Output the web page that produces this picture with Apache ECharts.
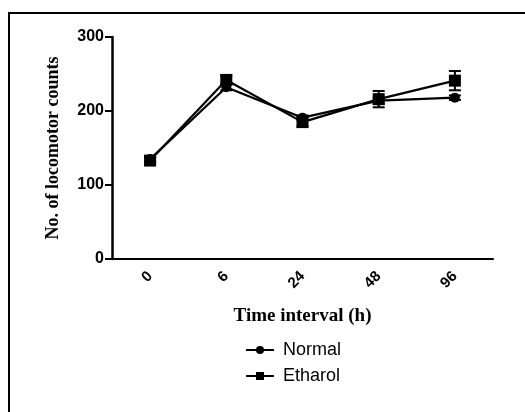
<!DOCTYPE html>
<html>
<head>
<meta charset="utf-8">
<script src="https://cdn.jsdelivr.net/npm/echarts@6/dist/echarts.min.js"></script>
<style>
  html, body { margin: 0; padding: 0; background: #fff; }
  #chart { width: 525px; height: 412px; }
</style>
</head>
<body>
<div id="chart"></div>
<script>
// categories (time points, h)
const timePoints = ['0', '6', '24', '48', '96'];
// mean locomotor counts
const normalValues = [135, 232, 191, 214, 218];
const ethanolValues = [133, 242, 185, 216, 241];
// SEM
const normalErr = [3, 4, 3, 4, 3];
const ethanolErr = [4, 6, 6, 11, 13];
const yTicks = [0, 100, 200, 300];

const chart = echarts.init(document.getElementById('chart'));

// 误差线
const errorSeries = (name, values, errs) => ({
  name: name,
  type: 'custom',
  silent: true,
  z: 1,
  data: values.map((v, i) => [i, v - errs[i], v + errs[i]]),
  renderItem: (params, api) => {
    const lo = api.coord([api.value(0), api.value(1)]);
    const hi = api.coord([api.value(0), api.value(2)]);
    const w = 6;
    const style = { stroke: '#000', lineWidth: 2 };
    return {
      type: 'group',
      children: [
        { type: 'line', shape: { x1: hi[0], y1: hi[1], x2: lo[0], y2: lo[1] }, style },
        { type: 'line', shape: { x1: hi[0] - w, y1: hi[1], x2: hi[0] + w, y2: hi[1] }, style },
        { type: 'line', shape: { x1: lo[0] - w, y1: lo[1], x2: lo[0] + w, y2: lo[1] }, style }
      ]
    };
  }
});

const option = {
  animation: false,
  graphic: [{
    type: 'rect',
    shape: { x: 9, y: 13, width: 540, height: 420 },
    style: { fill: 'none', stroke: '#000', lineWidth: 2 }
  }],
  grid: { left: 112, top: 37, right: 32, bottom: 153 },
  legend: {
    orient: 'vertical',
    left: 240,
    top: 336,
    itemWidth: 28,
    itemHeight: 10,
    itemGap: 8,
    data: ['Normal', 'Etharol'],
    textStyle: { fontFamily: 'Liberation Sans, Arial', fontSize: 18, color: '#000', padding: [0, 0, 0, 4] }
  },
  xAxis: {
    type: 'category',
    data: timePoints,
    boundaryGap: true,
    name: 'Time interval (h)',
    nameLocation: 'middle',
    nameGap: 48,
    nameTextStyle: { fontFamily: 'Liberation Serif, Times New Roman', fontWeight: 'bold', fontSize: 19, color: '#000' },
    axisLine: { lineStyle: { color: '#000', width: 2 } },
    axisTick: { alignWithLabel: true, length: 7, lineStyle: { color: '#000', width: 2 } },
    axisLabel: { rotate: 45, margin: 15, fontFamily: 'Liberation Sans, Arial', fontWeight: 'bold', fontSize: 15, color: '#000' },
    splitLine: { show: false }
  },
  yAxis: {
    type: 'value',
    min: yTicks[0],
    max: yTicks[yTicks.length - 1],
    interval: 100,
    name: 'No. of locomotor counts',
    nameLocation: 'middle',
    nameGap: 50,
    nameRotate: 90,
    nameTextStyle: { fontFamily: 'Liberation Serif, Times New Roman', fontWeight: 'bold', fontSize: 18, color: '#000' },
    axisLine: { show: true, lineStyle: { color: '#000', width: 2.5 } },
    axisTick: { show: true, length: 7, lineStyle: { color: '#000', width: 2 } },
    axisLabel: { margin: 8, fontFamily: 'Liberation Sans, Arial', fontWeight: 'bold', fontSize: 16, color: '#000' },
    splitLine: { show: false }
  },
  series: [
    errorSeries('NormalErr', normalValues, normalErr),
    errorSeries('EtharolErr', ethanolValues, ethanolErr),
    {
      name: 'Normal',
      type: 'line',
      data: normalValues,
      symbol: 'circle',
      symbolSize: 10,
      z: 3,
      lineStyle: { color: '#000', width: 2.2 },
      itemStyle: { color: '#000' }
    },
    {
      name: 'Etharol',
      type: 'line',
      data: ethanolValues,
      symbol: 'rect',
      symbolSize: 12,
      z: 3,
      lineStyle: { color: '#000', width: 2.2 },
      itemStyle: { color: '#000' }
    }
  ]
};

chart.setOption(option);
</script>
</body>
</html>
